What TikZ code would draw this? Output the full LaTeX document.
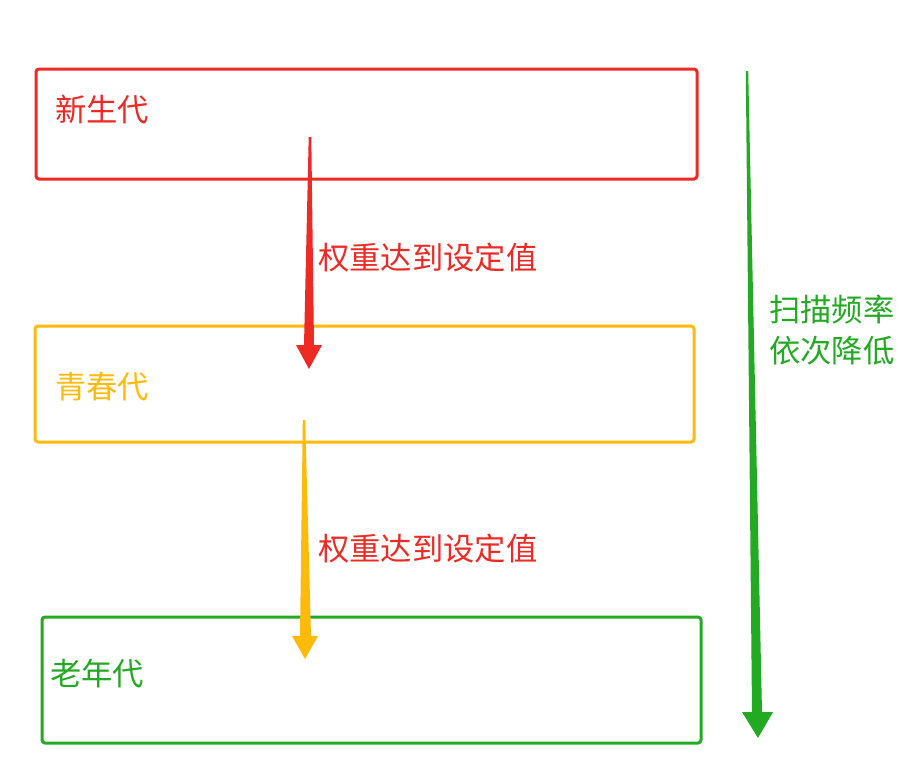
\documentclass[tikz,border=0pt]{standalone}
\usepackage{fontspec}
\newfontfamily\cjk{Noto Sans CJK SC}
\definecolor{cred}{HTML}{EE2A24}
\definecolor{cyel}{HTML}{FFBA0A}
\definecolor{cgrn}{HTML}{22AA22}
\begin{document}
\begin{tikzpicture}[x=1pt,y=-1pt,
  genbox/.style={draw=#1,line width=3pt,rounded corners=3pt},
  lbl/.style={inner sep=0pt,anchor=west,font=\cjk\fontsize{31.3}{38}\selectfont},
  wedge/.style={fill=#1,draw=none}]
\useasboundingbox (0,0) rectangle (924,782);
\fill[white] (0,0) rectangle (924,782);
% boxes
\draw[genbox=cred] (36,69) rectangle (697,179) coordinate (b1c);
\draw[genbox=cyel] (35,326) rectangle (694,442) coordinate (b2c);
\draw[genbox=cgrn] (42,617) rectangle (701,743) coordinate (b3c);
\node[lbl,text=cred] (n1) at (55,110) {新生代};
\node[lbl,text=cyel] (n2) at (55,387) {青春代};
\node[lbl,text=cgrn] (n3) at (50,674) {老年代};
% arrows (tapered)
\coordinate (a1s) at (310,137);
\coordinate (a1e) at (309,369);
\fill[cred] (308.7,137) -- (311.3,137) -- (314,345) -- (322,345) -- (a1e) -- (296,345) -- (304,345) -- cycle;
\coordinate (a2s) at (304,420);
\coordinate (a2e) at (305,659);
\fill[cyel] (302.8,420) -- (305.2,420) -- (311,636) -- (318,636) -- (a2e) -- (292,636) -- (300,636) -- cycle;
\coordinate (a3s) at (747,71);
\coordinate (a3e) at (758,738);
\fill[cgrn] (745.8,71) -- (748.2,71) -- (762,712) -- (773,712) -- (a3e) -- (742,712) -- (752,712) -- cycle;
% labels
\node[lbl,text=cred] (l1) at (318,258) {权重达到设定值};
\node[lbl,text=cred] (l2) at (318,549) {权重达到设定值};
\node[lbl,text=cgrn] (r1) at (769,310) {扫描频率};
\node[lbl,text=cgrn] (r2) at (769,351) {依次降低};
\end{tikzpicture}
\end{document}
